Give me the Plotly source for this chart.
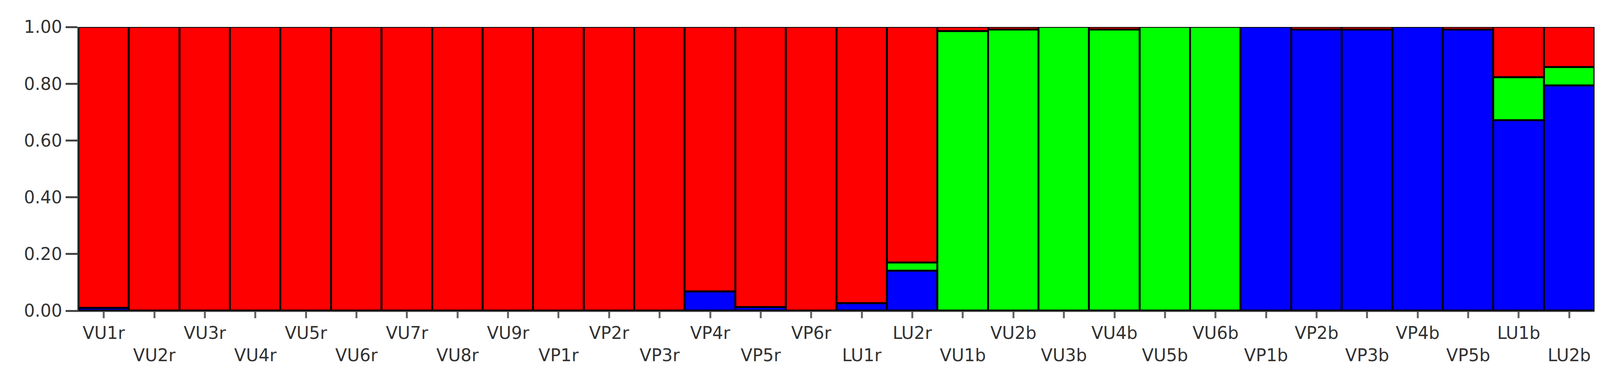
import plotly.graph_objects as go

samples = ["VU1r","VU2r","VU3r","VU4r","VU5r","VU6r","VU7r","VU8r","VU9r",
           "VP1r","VP2r","VP3r","VP4r","VP5r","VP6r","LU1r","LU2r",
           "VU1b","VU2b","VU3b","VU4b","VU5b","VU6b",
           "VP1b","VP2b","VP3b","VP4b","VP5b","LU1b","LU2b"]
blue  = [0.01,0,0,0,0,0,0,0,0, 0,0,0,0.068,0.013,0,0.026,0.14,
         0,0,0,0,0,0, 1.0,0.99,0.99,1.0,0.99,0.671,0.793]
green = [0,0,0,0,0,0,0,0,0, 0,0,0,0,0,0,0,0.03,
         0.985,0.99,1.0,0.99,1.0,1.0, 0,0,0,0,0,0.152,0.065]
red   = [0.99,1,1,1,1,1,1,1,1, 1,1,1,0.932,0.987,1,0.974,0.83,
         0.015,0.01,0,0.01,0,0, 0,0.01,0.01,0,0.01,0.177,0.142]

x = list(range(len(samples)))
fig = go.Figure()
for name, vals, col in [("Cluster 3", blue, "#0000FF"), ("Cluster 2", green, "#00FF00"), ("Cluster 1", red, "#FF0000")]:
    fig.add_trace(go.Bar(x=x, y=vals, name=name, marker=dict(color=col, line=dict(color="black", width=5))))

ticktext = [s if i % 2 == 0 else "<br>" + s for i, s in enumerate(samples)]
fig.update_layout(
    barmode="stack", bargap=0, showlegend=False,
    width=4131, height=990, plot_bgcolor="white", paper_bgcolor="white",
    margin=dict(l=193, r=57, t=61, b=203),
    font=dict(family="DejaVu Sans", size=44, color="#333333"),
)
fig.update_xaxes(tickmode="array", tickvals=x, ticktext=ticktext, range=[-0.5, len(samples)-0.5],
                 ticks="outside", ticklen=16, tickwidth=5, tickcolor="#666666",
                 showline=True, linecolor="#444444", linewidth=3, showgrid=False)
fig.update_yaxes(range=[0, 1], tickvals=[0, 0.2, 0.4, 0.6, 0.8, 1.0], tickformat=".2f",
                 ticks="outside", ticklen=30, tickwidth=5, tickcolor="#444444",
                 showline=True, linecolor="#444444", linewidth=3, showgrid=False)
fig.write_html("out.html")
